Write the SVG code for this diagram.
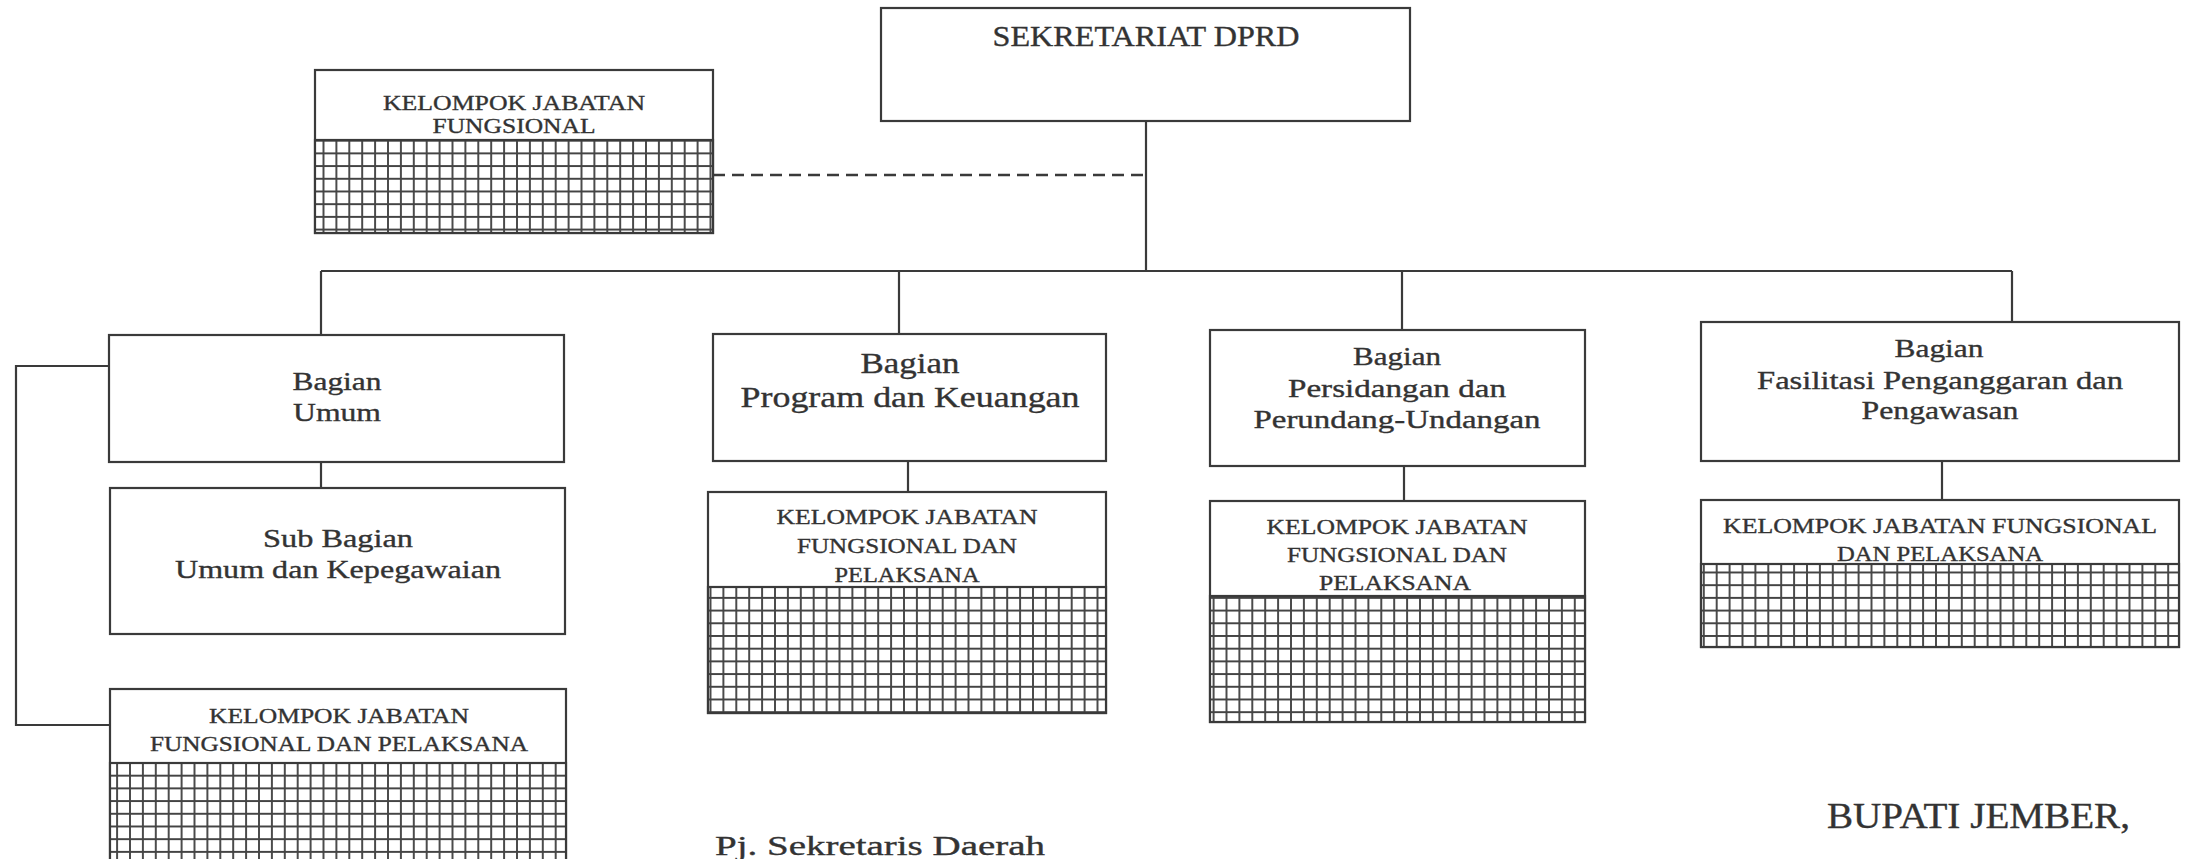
<svg xmlns="http://www.w3.org/2000/svg" width="2190" height="859" viewBox="0 0 2190 859">
<style>
.box{fill:#fff;stroke:#3a3a3a;stroke-width:2.2}
.grid{fill:url(#grid);stroke:#3a3a3a;stroke-width:2.2}
.ln{fill:none;stroke:#3a3a3a;stroke-width:2.2}
.dash{fill:none;stroke:#3a3a3a;stroke-width:2.5;stroke-dasharray:12 7}
text{font-family:"Liberation Serif","Times New Roman",serif;fill:#333;stroke:#333;stroke-width:0.35;text-anchor:middle}
.t30{font-size:30px}.t25{font-size:25px}.t22{font-size:22px}.t27{font-size:27px}.t36{font-size:36px}
</style>
<defs>
<pattern id="grid" patternUnits="userSpaceOnUse" width="12.9" height="12.7">
<rect width="12.9" height="12.7" fill="#fff"/>
<path d="M0 1H12.9M1 0V12.7" stroke="#444" stroke-width="1.9"/>
</pattern>
</defs>
<rect width="2190" height="859" fill="#fff"/>
<g id="connectors">
<path class="ln" d="M1146 121V271"/>
<path class="ln" d="M321 271H2012"/>
<path class="ln" d="M321 271V335M899 271V334M1402 271V330M2012 271V322"/>
<path class="ln" d="M321 462V488"/>
<path class="ln" d="M109 366H16V725H110"/>
<path class="ln" d="M908 461V492"/>
<path class="ln" d="M1404 466V501"/>
<path class="ln" d="M1942 461V500"/>
<path class="dash" d="M713 175H1146"/>
</g>
<g id="sekretariat">
<rect class="box" x="881" y="8" width="529" height="113"/>
<text class="t30" x="1146" y="46" textLength="307" lengthAdjust="spacingAndGlyphs">SEKRETARIAT DPRD</text>
</g>
<g id="kjf-top">
<rect class="box" x="315" y="70" width="398" height="163"/>
<rect class="grid" x="315" y="140" width="398" height="93"/>
<text class="t22" x="514" y="110" textLength="262" lengthAdjust="spacingAndGlyphs">KELOMPOK JABATAN</text>
<text class="t22" x="514" y="133" textLength="163" lengthAdjust="spacingAndGlyphs">FUNGSIONAL</text>
</g>
<g id="bagian-umum">
<rect class="box" x="109" y="335" width="455" height="127"/>
<text class="t25" x="337" y="390" textLength="89" lengthAdjust="spacingAndGlyphs">Bagian</text>
<text class="t25" x="337" y="421" textLength="88" lengthAdjust="spacingAndGlyphs">Umum</text>
</g>
<g id="subbagian-umum">
<rect class="box" x="110" y="488" width="455" height="146"/>
<text class="t25" x="338" y="547" textLength="150" lengthAdjust="spacingAndGlyphs">Sub Bagian</text>
<text class="t25" x="338" y="578" textLength="326" lengthAdjust="spacingAndGlyphs">Umum dan Kepegawaian</text>
</g>
<g id="kjf-umum">
<rect class="box" x="110" y="689" width="456" height="175"/>
<rect class="grid" x="110" y="763" width="456" height="101"/>
<text class="t22" x="339" y="723" textLength="260" lengthAdjust="spacingAndGlyphs">KELOMPOK JABATAN</text>
<text class="t22" x="339" y="751" textLength="378" lengthAdjust="spacingAndGlyphs">FUNGSIONAL DAN PELAKSANA</text>
</g>
<g id="bagian-program">
<rect class="box" x="713" y="334" width="393" height="127"/>
<text class="t30" x="910" y="373" textLength="99" lengthAdjust="spacingAndGlyphs">Bagian</text>
<text class="t30" x="910" y="407" textLength="339" lengthAdjust="spacingAndGlyphs">Program dan Keuangan</text>
</g>
<g id="kjf-program">
<rect class="box" x="708" y="492" width="398" height="221"/>
<rect class="grid" x="708" y="587" width="398" height="126"/>
<text class="t22" x="907" y="524" textLength="261" lengthAdjust="spacingAndGlyphs">KELOMPOK JABATAN</text>
<text class="t22" x="907" y="553" textLength="220" lengthAdjust="spacingAndGlyphs">FUNGSIONAL DAN</text>
<text class="t22" x="907" y="582" textLength="145" lengthAdjust="spacingAndGlyphs">PELAKSANA</text>
</g>
<g id="bagian-persidangan">
<rect class="box" x="1210" y="330" width="375" height="136"/>
<text class="t25" x="1397" y="365" textLength="88" lengthAdjust="spacingAndGlyphs">Bagian</text>
<text class="t25" x="1397" y="397" textLength="218" lengthAdjust="spacingAndGlyphs">Persidangan dan</text>
<text class="t25" x="1397" y="428" textLength="287" lengthAdjust="spacingAndGlyphs">Perundang-Undangan</text>
</g>
<g id="kjf-persidangan">
<rect class="box" x="1210" y="501" width="375" height="221"/>
<rect class="grid" x="1210" y="596" width="375" height="126"/>
<text class="t22" x="1397" y="534" textLength="261" lengthAdjust="spacingAndGlyphs">KELOMPOK JABATAN</text>
<text class="t22" x="1397" y="562" textLength="220" lengthAdjust="spacingAndGlyphs">FUNGSIONAL DAN</text>
<text class="t22" x="1395" y="590" textLength="152" lengthAdjust="spacingAndGlyphs">PELAKSANA</text>
</g>
<g id="bagian-fasilitasi">
<rect class="box" x="1701" y="322" width="478" height="139"/>
<text class="t25" x="1939" y="357" textLength="89" lengthAdjust="spacingAndGlyphs">Bagian</text>
<text class="t25" x="1940" y="389" textLength="366" lengthAdjust="spacingAndGlyphs">Fasilitasi Penganggaran dan</text>
<text class="t25" x="1940" y="419" textLength="157" lengthAdjust="spacingAndGlyphs">Pengawasan</text>
</g>
<g id="kjf-fasilitasi">
<rect class="box" x="1701" y="500" width="478" height="147"/>
<rect class="grid" x="1701" y="564" width="478" height="83"/>
<text class="t22" x="1940" y="533" textLength="434" lengthAdjust="spacingAndGlyphs">KELOMPOK JABATAN FUNGSIONAL</text>
<text class="t22" x="1940" y="561" textLength="206" lengthAdjust="spacingAndGlyphs">DAN PELAKSANA</text>
</g>
<g id="signatures">
<text class="t27" x="715" y="855" style="text-anchor:start" textLength="330" lengthAdjust="spacingAndGlyphs">Pj. Sekretaris Daerah</text>
<text class="t36" x="1827" y="828" style="text-anchor:start" textLength="303" lengthAdjust="spacingAndGlyphs">BUPATI JEMBER,</text>
</g>
</svg>
